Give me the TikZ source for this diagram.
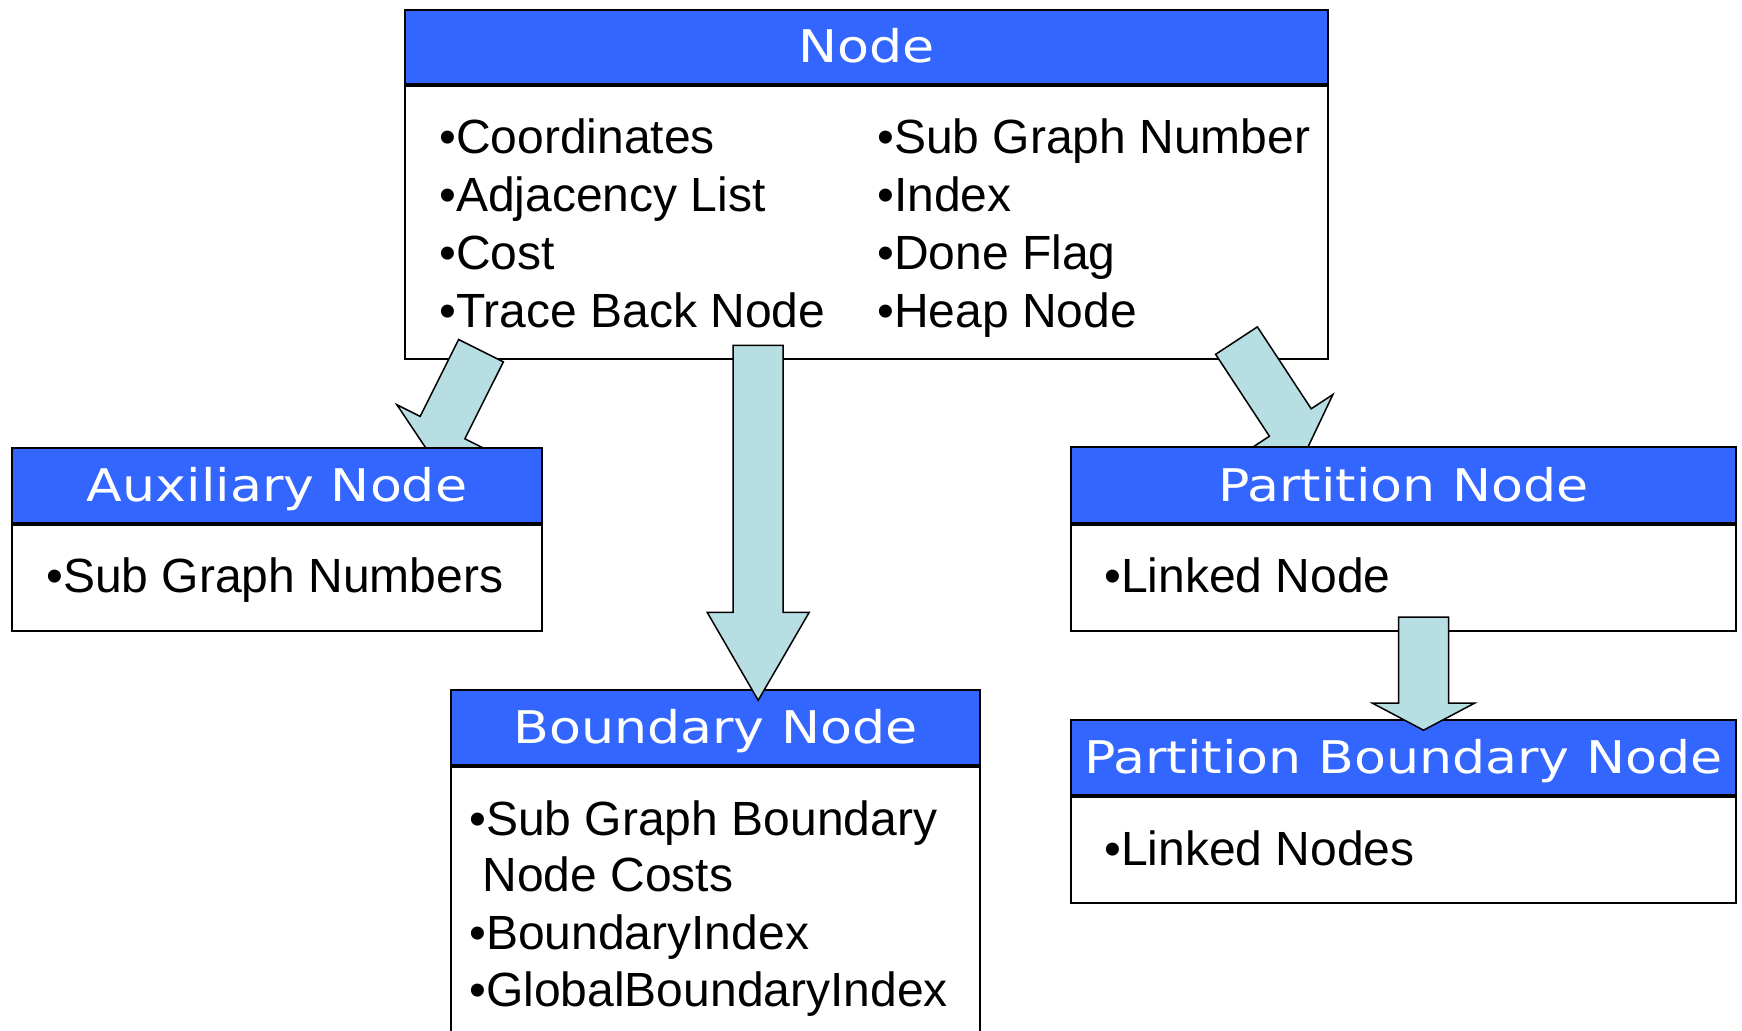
\documentclass[tikz,border=0pt]{standalone}
\usepackage{fontspec}
\setmainfont{Liberation Sans}
\newfontfamily\titlefont[FakeStretch=1.16]{DejaVu Sans}
\definecolor{headblue}{RGB}{51,102,255}
\definecolor{arrowfill}{RGB}{183,222,226}

\begin{document}
\begin{tikzpicture}[x=0.5pt,y=-0.5pt,
  boxhead/.style={draw=black, fill=headblue, line width=1pt, inner sep=0pt, anchor=north west},
  boxbody/.style={draw=black, fill=white, line width=1pt, inner sep=0pt, anchor=north west},
  title/.style={anchor=base, inner sep=0pt, text=white, font=\titlefont\fontsize{22.5pt}{27pt}\selectfont},
  item/.style={anchor=base west, inner sep=0pt, font=\fontsize{24pt}{28pt}\selectfont},
  arrowbody/.style={draw=black, fill=arrowfill, line width=0.75pt, line join=miter},
  pics/blockarrow/.style 2 args={code={
    \draw[arrowbody] (0,-25) -- (#1,-25) -- (#1,-51) -- ({#1+#2},0)
      -- (#1,51) -- (#1,25) -- (0,25) -- cycle;}}
]
\path[use as bounding box, fill=white] (0,0) rectangle (1742,1031);
\clip (0,0) rectangle (1742,1031);

% base class
\node[boxhead, minimum width=461.5pt, minimum height=37pt] (nodehead) at (404,9) {};
\node[boxbody, minimum width=461.5pt, minimum height=136.5pt] (nodebody) at (nodehead.south west) {};
\node[title] (nodetitle) at ([shift={(0,16)}]nodehead.center) {Node};
\node[item] (n1) at (439,154) {•Coordinates};
\node[item] (n2) at (439,212) {•Adjacency List};
\node[item] (n3) at (439,270) {•Cost};
\node[item] (n4) at (439,327.5) {•Trace Back Node};
\node[item] (n5) at (877,154) {•Sub Graph Number};
\node[item] (n6) at (877,212) {•Index};
\node[item] (n7) at (877,270) {•Done Flag};
\node[item] (n8) at (877,327.5) {•Heap Node};

% boundary node
\node[boxhead, minimum width=264.5pt, minimum height=37.25pt] (bndhead) at (450,689.5) {};
\node[boxbody, minimum width=264.5pt, minimum height=138pt] (bndbody) at (bndhead.south west) {};
\node[title] (bndtitle) at ([shift={(0,16)}]bndhead.center) {Boundary Node};
\node[item] (b1) at (469,835.5) {•Sub Graph Boundary};
\node[item] (b2) at (482,892) {Node Costs};
\node[item] (b3) at (469,950) {•BoundaryIndex};
\node[item] (b4) at (469,1007) {•GlobalBoundaryIndex};

% partition boundary node
\node[boxhead, minimum width=332.5pt, minimum height=37.5pt] (pbhead) at (1070,719) {};
\node[boxbody, minimum width=332.5pt, minimum height=53pt] (pbbody) at (pbhead.south west) {};
\node[title] (pbtitle) at ([shift={(0,16.5)}]pbhead.center) {Partition Boundary Node};
\node[item] (pb1) at (1104,865.5) {•Linked Nodes};

% inheritance arrows leaving the base class
\coordinate (arrL) at ([shift={(77,-9.3)}]nodebody.south west);
\coordinate (arrR) at ([shift={(832.5,-19.4)}]nodebody.south west);
\pic (toaux) [rotate=-116.6] at (arrL) {blockarrow={86}{29}};
\pic (topart) [rotate=-56.7] at (arrR) {blockarrow={98}{31}};

% auxiliary node
\node[boxhead, minimum width=265pt, minimum height=37.5pt] (auxhead) at (11,447) {};
\node[boxbody, minimum width=265pt, minimum height=53pt] (auxbody) at (auxhead.south west) {};
\node[title] (auxtitle) at ([shift={(0,16.5)}]auxhead.center) {Auxiliary Node};
\node[item] (a1) at (46,593) {•Sub Graph Numbers};

% partition node
\node[boxhead, minimum width=332.5pt, minimum height=37.75pt] (parthead) at (1070,446.5) {};
\node[boxbody, minimum width=332.5pt, minimum height=53pt] (partbody) at (parthead.south west) {};
\node[title] (parttitle) at ([shift={(0,16.5)}]parthead.center) {Partition Node};
\node[item] (p1) at (1104,592.5) {•Linked Node};

% arrows drawn over their boxes
\coordinate (arrC) at ([shift={(354.2,-14.7)}]nodebody.south west);
\coordinate (arrP) at ([shift={(353.5,-14.8)}]partbody.south west);
\pic (tobnd) [rotate=-90] at (arrC) {blockarrow={267}{88}};
\pic (topb) [rotate=-90] at (arrP) {blockarrow={86}{27}};
\end{tikzpicture}
\end{document}
